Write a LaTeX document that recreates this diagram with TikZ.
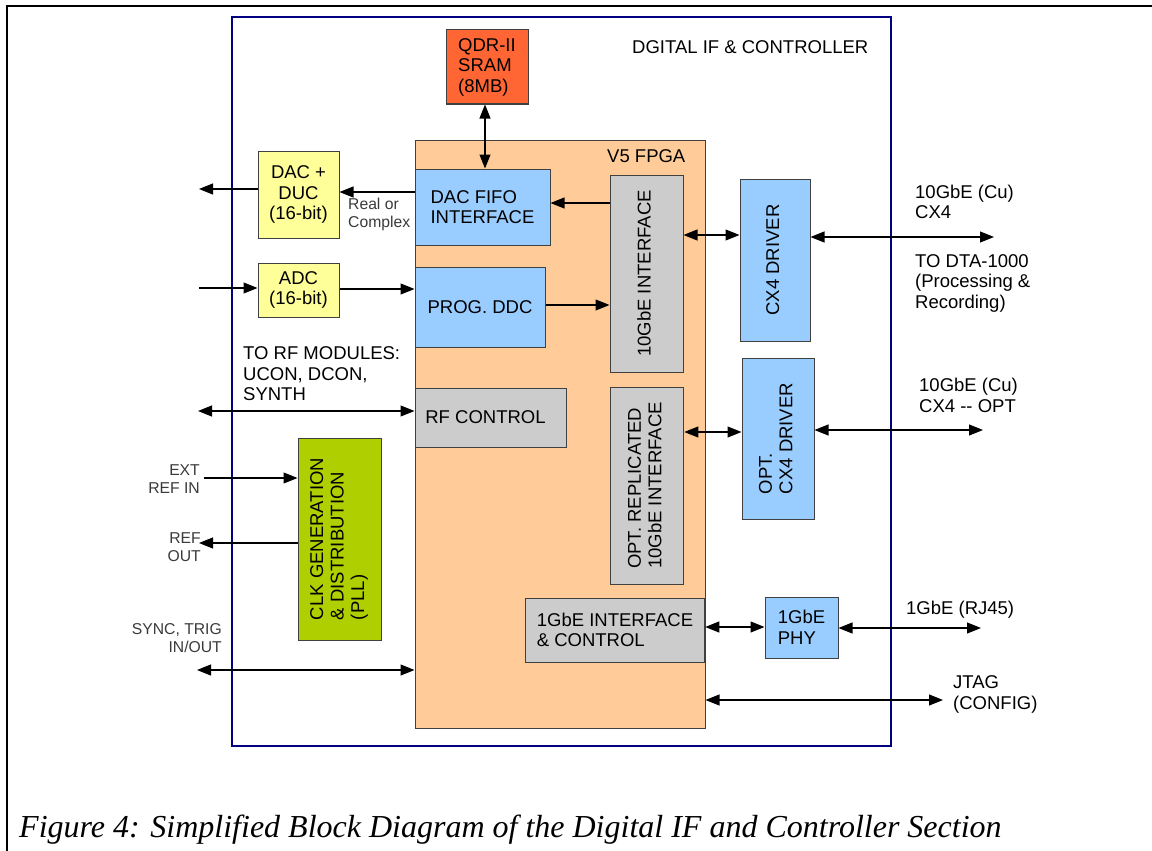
\documentclass[tikz,border=0pt]{standalone}
\usepackage{fontspec}
\setmainfont{Liberation Sans}
\newfontfamily\capfont{Liberation Serif}
\usepackage{graphicx}
\usetikzlibrary{arrows.meta}
\newcommand\bodyf{\fontsize{18.5}{20.5}\selectfont}
\newcommand\smallf{\fontsize{15.7}{17.5}\selectfont}
\newcommand\vtext[1]{\rotatebox{90}{\begin{tabular}{@{}l@{}}#1\end{tabular}}}
\definecolor{qdrc}{HTML}{FF6633}
\definecolor{fpgac}{HTML}{FFCC99}
\definecolor{bluec}{HTML}{99CCFF}
\definecolor{greyc}{HTML}{CCCCCC}
\definecolor{yelc}{HTML}{FFFF99}
\definecolor{grnc}{HTML}{AFCF00}
\definecolor{navyc}{HTML}{000080}
\definecolor{labc}{HTML}{3A3A3A}
\begin{document}
\begin{tikzpicture}[x=1pt,y=-1pt,
  box/.style={draw=black!75, line width=1pt, inner sep=0pt, font=\bodyf, align=center},
  lbox/.style={box, align=left},
  arr/.style={line width=1.1pt, -{Triangle[length=14pt,width=11pt]}},
  darr/.style={line width=1.1pt, {Triangle[length=14pt,width=11pt]}-{Triangle[length=14pt,width=11pt]}},
  lab/.style={font=\bodyf, align=left, inner sep=0pt, anchor=west},
  slab/.style={font=\smallf, text=labc, inner sep=0pt}]
\useasboundingbox (0,0) rectangle (1152,851);
% outer page frame
\draw[line width=1.5pt] (7,851) -- (7,6) -- (1152,6);
% digital IF frame
\node[draw=navyc, line width=2pt, minimum width=659pt, minimum height=729pt, inner sep=0pt] (dig) at (561.5,381.5) {};
\node[lab] (title) at (632,47) {DGITAL IF \& CONTROLLER};
% FPGA
\node[box, fill=fpgac, minimum width=290pt, minimum height=588pt] (fpga) at (560,434) {};
\node[lab] (fpgalab) at (607,156) {V5 FPGA};
% blocks
\node[lbox, fill=qdrc, minimum width=82pt, minimum height=74pt] (qdr) at (487,67) {QDR-II\\SRAM\\(8MB)};
\node[lbox, fill=bluec, minimum width=135pt, minimum height=76pt] (dacfifo) at (482.5,207) {DAC FIFO\\INTERFACE};
\node[box, fill=greyc, minimum width=73pt, minimum height=197pt] (teng) at (646.5,273.5) {\vtext{10GbE INTERFACE}};
\node[box, fill=bluec, minimum width=130pt, minimum height=80pt] (ddc) at (480,307) {PROG. DDC};
\node[box, fill=greyc, minimum width=151pt, minimum height=59pt] (rfc) at (490.5,417.5) {RF CONTROL\hspace*{10pt}};
\node[box, fill=greyc, minimum width=73.5pt, minimum height=197pt] (optrep) at (647,485.5) {\vtext{OPT. REPLICATED\\10GbE INTERFACE}};
\node[lbox, fill=greyc, minimum width=179.5pt, minimum height=64pt] (gbif) at (615,630) {1GbE INTERFACE\\\& CONTROL};
\node[box, fill=bluec, minimum width=70pt, minimum height=162pt] (cx4) at (775,260) {\vtext{CX4 DRIVER}};
\node[box, fill=bluec, minimum width=72pt, minimum height=161pt] (optcx4) at (778,438.5) {\vtext{OPT.\\CX4 DRIVER}};
\node[lbox, fill=bluec, minimum width=73pt, minimum height=61pt] (phy) at (801.5,627.5) {1GbE\\PHY};
\node[box, fill=yelc, minimum width=81pt, minimum height=87pt] (dacduc) at (298.5,194.5) {DAC +\\DUC\\(16-bit)};
\node[box, fill=yelc, minimum width=81pt, minimum height=54pt] (adc) at (298.5,290) {ADC\\(16-bit)};
\node[box, fill=grnc, minimum width=83pt, minimum height=202pt] (clk) at (339.5,539) {\vtext{CLK GENERATION\\\& DISTRIBUTION\\(PLL)}};
% labels
\node[slab, anchor=west, align=left] (rc) at (348,214.5) {Real or\\Complex};
\node[lab] (l10a) at (915,202) {10GbE (Cu)\\CX4};
\node[lab] (ldta) at (915,283) {TO DTA-1000\\(Processing \&\\Recording)};
\node[lab] (l10b) at (919,395.5) {10GbE (Cu)\\CX4 -{}- OPT};
\node[lab] (l1g) at (906,610) {1GbE (RJ45)};
\node[lab] (ljtag) at (953,694.5) {JTAG\\(CONFIG)};
\node[lab] (lrf) at (243,374) {TO RF MODULES:\\UCON, DCON,\\SYNTH};
\node[slab, anchor=east, align=right] (lext) at (200,479) {EXT\\REF IN};
\node[slab, anchor=east, align=right] (lref) at (201,547) {REF\\OUT};
\node[slab, anchor=east, align=right] (lsync) at (222,638) {SYNC, TRIG\\IN/OUT};
\node[anchor=base west, inner sep=0pt, font={\capfont\itshape\fontsize{32}{38}\selectfont}] (cap) at (19,837) {Figure 4: Simplified Block Diagram of the Digital IF and Controller Section};
% free ends
\coordinate (dacout) at (199,189);
\coordinate (adcin) at (199,288);
\coordinate (rfout) at (198,411);
\coordinate (extin) at (204,478);
\coordinate (refout) at (199,543);
\coordinate (syncio) at (197,670);
\coordinate (cx4out) at (994,237);
\coordinate (optout) at (983,430);
\coordinate (phyout) at (981,628);
\coordinate (jtagout) at (943,700);
% connectors
\draw[arr] (dacduc.west |- dacout) -- (dacout);
\draw[arr] (dacfifo.west |- 0,192) -- (dacduc.east |- 0,192);
\draw[arr] (teng.west |- 0,203) -- (dacfifo.east |- 0,203);
\draw[darr] (qdr.south -| 485,0) -- (dacfifo.north -| 485,0);
\draw[arr] (adcin) -- (adc.west |- adcin);
\draw[arr] (adc.east |- 0,289) -- (ddc.west |- 0,289);
\draw[arr] (ddc.east |- 0,305) -- (teng.west |- 0,305);
\draw[darr] (teng.east |- 0,235) -- (cx4.west |- 0,235);
\draw[darr] (cx4.east |- cx4out) -- (cx4out);
\draw[darr] (rfout) -- (rfc.west |- rfout);
\draw[arr] (extin) -- (clk.west |- extin);
\draw[arr] (clk.west |- refout) -- (refout);
\draw[darr] (syncio) -- (fpga.west |- syncio);
\draw[darr] (optrep.east |- 0,432) -- (optcx4.west |- 0,432);
\draw[darr] (optcx4.east |- optout) -- (optout);
\draw[darr] (gbif.east |- 0,627) -- (phy.west |- 0,627);
\draw[darr] (phy.east |- phyout) -- (phyout);
\draw[darr] (fpga.east |- jtagout) -- (jtagout);
\end{tikzpicture}
\end{document}
